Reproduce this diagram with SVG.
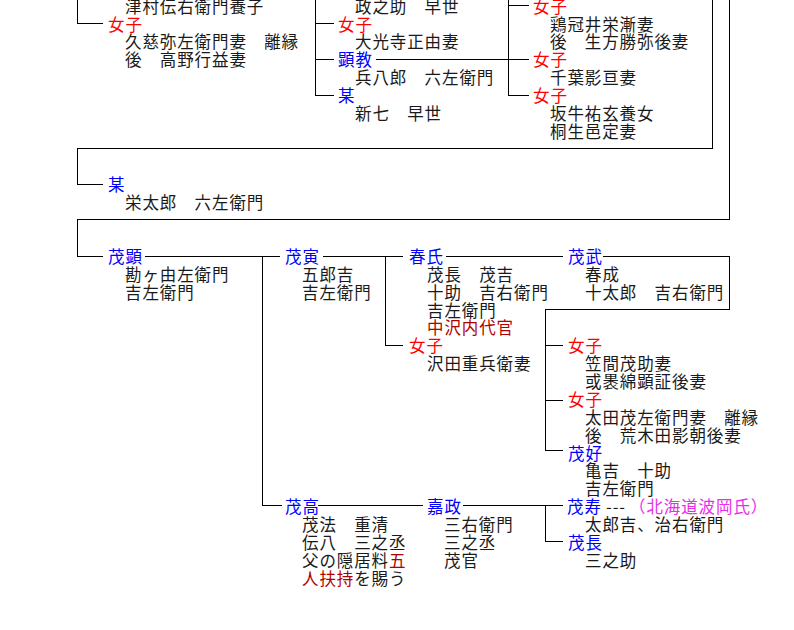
<svg xmlns="http://www.w3.org/2000/svg" width="794" height="630" viewBox="0 0 794 630">
<style>
text{font-family:"Noto Sans CJK JP","Noto Sans CJK SC",sans-serif;font-size:16.5px;letter-spacing:0.9px;fill:#1a1a1a}
.b{fill:#0000ff}.r{fill:#ff0000}.d{fill:#b00000}.m{fill:#e82ee8}
#connectors path{fill:none;stroke:#000;stroke-width:1;shape-rendering:crispEdges}
</style>
<rect width="794" height="630" fill="#fff"/>
<g id="connectors">
<path d="M77.5 0V23.5H103"/>
<path d="M315.5 0V95.5M315.5 23.5H334M315.5 59.5H334M315.5 95.5H334"/>
<path d="M376 59.5H529"/>
<path d="M508.5 0V95.5M508.5 5.5H529M508.5 95.5H529"/>
<path d="M712.5 0V148.5H77.5V184.5H103"/>
<path d="M729.5 0V219.5H77.5V256.5H103"/>
<path d="M145 256.5H280M323 256.5H403M446 256.5H563"/>
<path d="M603 256.5H729.5V309.5H545.5V450.5M545.5 345.5H563M545.5 400.5H563M545.5 450.5H563"/>
<path d="M262.5 256.5V505.5H282M318 505.5H423M463 505.5H563M545.5 505.5V541.5H563"/>
<path d="M385.5 256.5V345.5H403"/>
</g>
<g id="n-tsumura"><text x="125" y="12.7">津村伝右衛門養子</text></g>
<g id="n-joshi-a1"><text class="r" x="108" y="30.6">女子</text><text x="125" y="48.4">久慈弥左衛門妻　離縁</text><text x="125" y="66.3">後　高野行益妻</text></g>
<g id="n-masanosuke"><text x="355" y="12.7">政之助　早世</text></g>
<g id="n-joshi-b1"><text class="r" x="338" y="30.6">女子</text><text x="355" y="48.4">大光寺正由妻</text></g>
<g id="n-akinori"><text class="b" x="338" y="66.3">顕教</text><text x="355" y="84.2">兵八郎　六左衛門</text></g>
<g id="n-bou-b"><text class="b" x="338" y="102.1">某</text><text x="355" y="119.9">新七　早世</text></g>
<g id="n-joshi-c1"><text class="r" x="533" y="12.7">女子</text><text x="550" y="30.6">鶏冠井栄漸妻</text><text x="550" y="48.4">後　生方勝弥後妻</text></g>
<g id="n-joshi-c2"><text class="r" x="533" y="66.3">女子</text><text x="550" y="84.2">千葉影亘妻</text></g>
<g id="n-joshi-c3"><text class="r" x="533" y="102.1">女子</text><text x="550" y="119.9">坂牛祐玄養女</text><text x="550" y="137.8">桐生邑定妻</text></g>
<g id="n-bou"><text class="b" x="108" y="191.4">某</text><text x="125" y="209.3">栄太郎　六左衛門</text></g>
<g id="n-shigeaki"><text class="b" x="108" y="262.9">茂顕</text><text x="125" y="280.8">勘ヶ由左衛門</text><text x="125" y="298.6">吉左衛門</text></g>
<g id="n-shigetora"><text class="b" x="285" y="262.9">茂寅</text><text x="302" y="280.8">五郎吉</text><text x="302" y="298.6">吉左衛門</text></g>
<g id="n-haruuji"><text class="b" x="409" y="262.9">春氏</text><text x="427" y="280.8">茂長　茂吉</text><text x="427" y="298.6">十助　吉右衛門</text><text x="427" y="316.5">吉左衛門</text><text class="d" x="427" y="334.4">中沢内代官</text></g>
<g id="n-joshi-h"><text class="r" x="409" y="352.2">女子</text><text x="427" y="370.1">沢田重兵衛妻</text></g>
<g id="n-shigetake"><text class="b" x="568" y="262.9">茂武</text><text x="585" y="280.8">春成</text><text x="585" y="298.6">十太郎　吉右衛門</text></g>
<g id="n-joshi-t1"><text class="r" x="568" y="352.2">女子</text><text x="585" y="370.1">笠間茂助妻</text><text x="585" y="388">或褁綿顕証後妻</text></g>
<g id="n-joshi-t2"><text class="r" x="568" y="405.8">女子</text><text x="585" y="423.7">太田茂左衛門妻　離縁</text><text x="585" y="441.6">後　荒木田影朝後妻</text></g>
<g id="n-shigeyoshi"><text class="b" x="568" y="459.5">茂好</text><text x="585" y="477.3">亀吉　十助</text><text x="585" y="495.2">吉左衛門</text></g>
<g id="n-shigetaka"><text class="b" x="285" y="513.1">茂高</text><text x="302" y="530.9">茂法　重清</text><text x="302" y="548.8">伝八　三之丞</text><text x="302" y="566.7">父の隠居料<tspan class="d">五</tspan></text><text x="302" y="584.5"><tspan class="d">人扶持</tspan>を賜う</text></g>
<g id="n-yoshimasa"><text class="b" x="427" y="513.1">嘉政</text><text x="444" y="530.9">三右衛門</text><text x="444" y="548.8">三之丞</text><text x="444" y="566.7">茂官</text></g>
<g id="n-shigehisa"><text class="b" x="567" y="513.1">茂寿</text><text x="606" y="513.1" letter-spacing="2">---</text><text class="m" x="629" y="513.1">（北海道波岡氏）</text><text x="585" y="530.9">太郎吉、治右衛門</text></g>
<g id="n-shigenaga"><text class="b" x="568" y="548.8">茂長</text><text x="585" y="566.7">三之助</text></g>
</svg>
